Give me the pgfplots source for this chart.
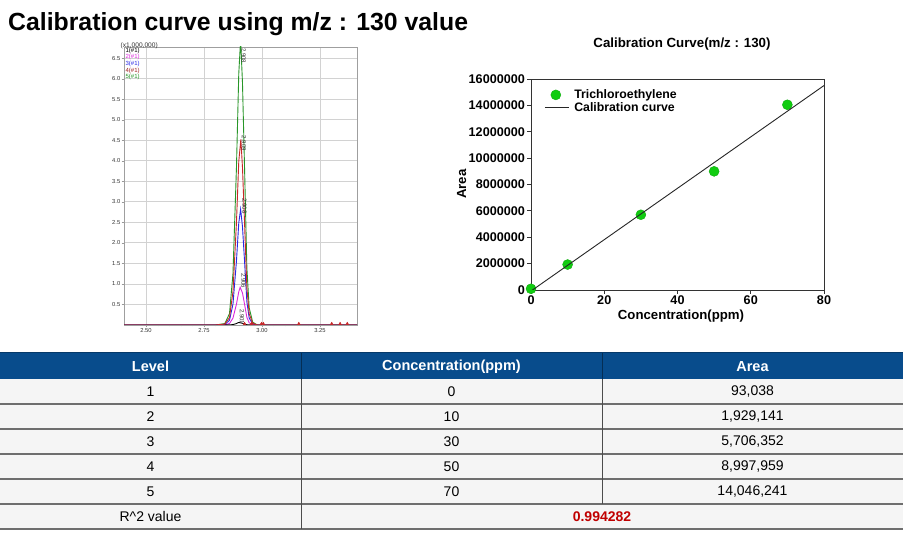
\documentclass[border=0pt]{standalone}
\usepackage{fontspec}
\setmainfont{Liberation Sans}
\usepackage{pgfplots}
\pgfplotsset{compat=1.18}
\definecolor{hdrBlue}{RGB}{8,76,140}
\definecolor{rowGray}{RGB}{245,245,245}
\definecolor{lineGray}{RGB}{110,110,110}
\definecolor{ptGreen}{RGB}{17,204,17}
\definecolor{chGreen}{RGB}{40,150,40}
\definecolor{chRed}{RGB}{200,40,40}
\definecolor{chBlue}{RGB}{40,40,230}
\definecolor{chMag}{RGB}{220,40,220}
\definecolor{rRed}{RGB}{192,0,0}

\begin{document}
\begin{tikzpicture}[x=1pt,y=1pt]
\useasboundingbox[fill=white] (0,0) rectangle (913,536);

% page title
\node[anchor=base west,font=\bfseries\fontsize{24.8}{28}\selectfont,inner sep=0pt] at (8,505) {Calibration curve using m/z : 130 value};

% chromatogram
\begin{axis}[
  at={(124pt,211pt)}, anchor=south west, scale only axis,
  width=233pt, height=278pt,
  xmin=2.405, xmax=3.41, ymin=0, ymax=6.77,
  xtick={2.50,2.75,3.00,3.25},
  ytick={0.5,1.0,1.5,2.0,2.5,3.0,3.5,4.0,4.5,5.0,5.5,6.0,6.5},
  minor x tick num=4,
  xticklabel style={/pgf/number format/.cd,fixed,fixed zerofill,precision=2},
  yticklabel style={/pgf/number format/.cd,fixed,fixed zerofill,precision=1},
  /pgf/number format/assume math mode=true,
  tick label style={font=\fontsize{5.8}{6}\selectfont,text=black!80,inner sep=1pt},
  tick align=outside, major tick length=2.5pt, minor tick length=1.5pt,
  tick pos=left,
  grid=major, major grid style={draw=gray!35,line width=0.8pt},
  axis line style={draw=gray!75},
  tick style={draw=gray!80},
  clip=true,
]
\addplot[chGreen,line width=0.9pt] coordinates {(2.405,0)(2.80,0)(2.84,0.035)(2.86,0.278)(2.875,1.251)(2.89,3.823)(2.900,6.116)(2.908,6.95)(2.916,5.908)(2.925,3.823)(2.935,1.39)(2.945,0.417)(2.96,0.07)(2.98,0)(3.41,0)};
\addplot[chBlue,line width=0.9pt] coordinates {(2.405,0)(2.80,0)(2.84,0.014)(2.86,0.113)(2.875,0.508)(2.89,1.551)(2.900,2.482)(2.908,2.82)(2.916,2.397)(2.925,1.551)(2.935,0.564)(2.945,0.169)(2.96,0.028)(2.98,0)(3.41,0)};
\addplot[chMag,line width=0.9pt] coordinates {(2.405,0)(2.80,0)(2.84,0.005)(2.86,0.037)(2.875,0.166)(2.89,0.506)(2.900,0.81)(2.906,0.92)(2.916,0.782)(2.925,0.506)(2.935,0.184)(2.945,0.055)(2.96,0.009)(2.98,0)(3.41,0)};
\addplot[black,line width=0.9pt] coordinates {(2.405,0)(2.80,0)(2.86,0.002)(2.875,0.011)(2.89,0.033)(2.895,0.053)(2.901,0.06)(2.91,0.051)(2.92,0.033)(2.93,0.012)(2.94,0.004)(2.96,0.001)(2.98,0)(3.41,0)};
\addplot[chRed,line width=0.9pt] coordinates {(2.405,0)(2.80,0)(2.84,0.023)(2.86,0.181)(2.875,0.814)(2.89,2.486)(2.900,3.978)(2.909,4.52)(2.916,3.842)(2.925,2.486)(2.935,0.904)(2.945,0.271)(2.96,0.045)(2.98,0)(3.41,0)};
\addplot[only marks,mark=triangle*,mark size=1.6pt,chRed] coordinates {(2.925,0.03)(2.955,0.03)(2.998,0.03)(3.006,0.03)(3.159,0.03)(3.301,0.03)(3.337,0.03)(3.368,0.03)};
% peak retention time labels
\node[rotate=-90,anchor=west,font=\fontsize{6}{6}\selectfont,text=black!80,inner sep=0.5pt] at (axis cs:2.921,6.76) {2.908};
\node[rotate=-90,anchor=west,font=\fontsize{6}{6}\selectfont,text=black!80,inner sep=0.5pt] at (axis cs:2.922,4.62) {2.909};
\node[rotate=-90,anchor=west,font=\fontsize{6}{6}\selectfont,text=black!80,inner sep=0.5pt] at (axis cs:2.925,3.10) {2.908};
\node[rotate=-90,anchor=west,font=\fontsize{6}{6}\selectfont,text=black!80,inner sep=0.5pt] at (axis cs:2.920,1.28) {2.906};
\node[rotate=-90,anchor=west,font=\fontsize{6}{6}\selectfont,text=black!80,inner sep=0.5pt] at (axis cs:2.914,0.40) {2.901};
% legend of traces
\node[anchor=west,font=\fontsize{6}{6}\selectfont,text=black,inner sep=0.5pt] at (rel axis cs:0.004,0.987) {1(\#1)};
\node[anchor=west,font=\fontsize{6}{6}\selectfont,text=chMag,inner sep=0.5pt] at (rel axis cs:0.004,0.963) {2(\#1)};
\node[anchor=west,font=\fontsize{6}{6}\selectfont,text=chBlue,inner sep=0.5pt] at (rel axis cs:0.004,0.939) {3(\#1)};
\node[anchor=west,font=\fontsize{6}{6}\selectfont,text=chRed!80!black,inner sep=0.5pt] at (rel axis cs:0.004,0.915) {4(\#1)};
\node[anchor=west,font=\fontsize{6}{6}\selectfont,text=chGreen,inner sep=0.5pt] at (rel axis cs:0.004,0.891) {5(\#1)};
\end{axis}
\node[anchor=south west,font=\fontsize{6.6}{7}\selectfont,text=black!80,inner sep=0.5pt] at (120,486.5) {(x1,000,000)};

% calibration curve
\begin{axis}[
  at={(531pt,246pt)}, anchor=south west, scale only axis,
  width=293pt, height=211pt,
  xmin=0, xmax=80, ymin=0, ymax=16000000,
  xtick={0,20,40,60,80},
  ytick={0,2000000,4000000,6000000,8000000,10000000,12000000,14000000,16000000},
  scaled y ticks=false,
  yticklabel style={/pgf/number format/.cd,fixed,1000 sep={}},
  /pgf/number format/assume math mode=true,
  tick label style={font=\bfseries\fontsize{12.6}{14}\selectfont,inner sep=2pt},
  tick align=outside, major tick length=4pt, tick pos=left,
  axis line style={draw=black!80,line width=0.9pt},
  tick style={draw=black!80,line width=0.8pt},
  clip mode=individual,
  legend style={at={(0.045,0.955)},anchor=north west,draw=none,fill=none,inner sep=0pt,
    font=\bfseries\fontsize{12.3}{13}\selectfont,row sep=0pt,
    nodes={inner ysep=1pt,inner xsep=5pt}},
  legend cell align=left,
]
\addplot[only marks,mark=*,mark size=5pt,color=ptGreen,mark options={fill=ptGreen,draw=ptGreen!85!black},
  legend image code/.code={\draw[mark=*,mark size=5pt,mark options={fill=ptGreen,draw=ptGreen!85!black}] plot coordinates {(11pt,0pt)};}]
  coordinates {(0,93038)(10,1929141)(30,5706352)(50,8997959)(70,14046241)};
\addlegendentry{Trichloroethylene}
\addplot[black!85,line width=0.9pt,no marks,
  legend image code/.code={\draw[black!85,line width=0.9pt] (0pt,0pt) -- (24pt,0pt);}]
  coordinates {(0,-78521)(80,15504147)};
\addlegendentry{Calibration curve}
\end{axis}
\node[anchor=base,font=\bfseries\fontsize{13.3}{15}\selectfont,inner sep=0pt] at (682,488) {Calibration Curve(m/z : 130)};
\node[anchor=base,font=\bfseries\fontsize{13.2}{15}\selectfont,inner sep=0pt] at (681,216) {Concentration(ppm)};
\node[rotate=90,anchor=base,font=\bfseries\fontsize{13.2}{15}\selectfont,inner sep=0pt] at (466,352) {Area};

% data table
\fill[rowGray] (0,7) rectangle (903,157);
\fill[hdrBlue] (0,157) rectangle (903,183);
\draw[hdrBlue!75!black,line width=1pt] (0,183) -- (903,183);
\draw[hdrBlue!60!black,line width=1pt] (301,157) -- (301,183) (602,157) -- (602,183);
\foreach \yy in {132,107,82,57,32,7} {\draw[lineGray,line width=1.4pt] (0,\yy) -- (903,\yy);}
\draw[black!70,line width=1pt] (301,7) -- (301,157) (602,32) -- (602,157);
\node[font=\bfseries\fontsize{14.5}{16}\selectfont,text=white] at (150.5,169.5) {Level};
\node[font=\bfseries\fontsize{14.5}{16}\selectfont,text=white] at (451.5,169.5) {Concentration(ppm)};
\node[font=\bfseries\fontsize{14.5}{16}\selectfont,text=white] at (752.5,169.5) {Area};
\foreach \yy/\lv/\cc/\ar in {144.5/1/0/{93,038},119.5/2/10/{1,929,141},94.5/3/30/{5,706,352},69.5/4/50/{8,997,959},44.5/5/70/{14,046,241}} {
  \node[font=\fontsize{14}{16}\selectfont] at (150.5,\yy) {\lv};
  \node[font=\fontsize{14}{16}\selectfont] at (451.5,\yy) {\cc};
  \node[font=\fontsize{14}{16}\selectfont] at (752.5,\yy) {\ar};
}
\node[font=\fontsize{14}{16}\selectfont] at (150.5,19.5) {R\textasciicircum 2 value};
\node[font=\bfseries\fontsize{14}{16}\selectfont,text=rRed] at (602,19.5) {0.994282};
\end{tikzpicture}
\end{document}
